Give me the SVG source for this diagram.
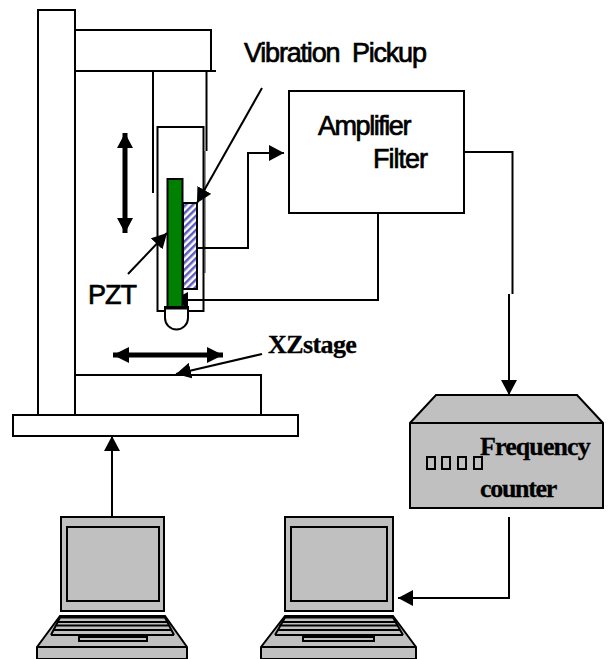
<svg xmlns="http://www.w3.org/2000/svg" width="610" height="659" viewBox="0 0 610 659">
<style>
.l{fill:none;stroke:#000;stroke-width:2}
.g{fill:#c0c0c0;stroke:#000;stroke-width:2}
.k{fill:none;stroke:#000;stroke-width:2}
.s{font-family:"Liberation Sans",Arial,sans-serif;font-size:27px;fill:#000;stroke:#000;stroke-width:.7;white-space:pre}
.b{font-family:"Liberation Serif","Times New Roman",serif;font-size:26px;font-weight:bold;fill:#000;stroke:#000;stroke-width:.3}
</style>
<defs>
<pattern id="h" width="5" height="5" patternUnits="userSpaceOnUse" patternTransform="rotate(45)">
<rect width="5" height="5" fill="#fff"/><rect width="2.500" height="5" fill="#5c5cc0"/>
</pattern>
<marker id="a" markerUnits="userSpaceOnUse" markerWidth="16" markerHeight="16" refX="15" refY="8" orient="auto"><path d="M0 0L15 8L0 16z" fill="#000"/></marker>
</defs>

<g id="stand">
<rect class="l" x="38" y="10" width="37" height="405"/>
<path class="l" d="M75 30H211V71"/>
<path class="l" d="M75 71H216"/>
<path class="l" d="M153 71V193M206.500 71V151"/>
<path d="M205 151V273" fill="none" stroke="#777" stroke-width="1.500"/>
<rect class="l" x="13" y="415" width="285" height="21"/>
</g>
<g id="xz-stage"><path class="l" d="M75 415V375H261V415"/></g>

<g id="holder">
<rect class="l" x="157.500" y="127" width="46" height="184"/>
<path d="M165 307V318A11.500 11.500 0 0 0 188 318V307z" fill="#fff" stroke="#000" stroke-width="2"/>
</g>

<g id="connectors">
<path class="l" marker-end="url(#a)" d="M197 248H248V153H284"/>
<path class="l" marker-end="url(#a)" d="M378 213V300H173"/>
<path class="l" d="M464 152H512.500V294"/>
<path class="l" marker-end="url(#a)" d="M509 294V395"/>
<path class="l" marker-end="url(#a)" d="M262 88L197 203"/>
<path class="l" marker-end="url(#a)" d="M128 274L167 233"/>
<path class="l" marker-end="url(#a)" d="M262 354L176 374"/>
<path class="l" marker-end="url(#a)" d="M112 517V436"/>
<path class="l" marker-end="url(#a)" d="M509 517V598H398"/>
<path d="M125 133V233" fill="none" stroke="#000" stroke-width="5"/>
<path d="M125 133L117 148H133zM125 233L117 218H133z" fill="#000"/>
<path d="M113 355H223" fill="none" stroke="#000" stroke-width="5"/>
<path d="M113 355L129 347V363zM223 355L207 347V363z" fill="#000"/>
</g>

<g id="pzt">
<rect x="167.500" y="179" width="15" height="128" fill="#008000" stroke="#000" stroke-width="2"/>
<path d="M165 308H188" stroke="#000" stroke-width="3" fill="none"/>
</g>
<g id="pickup"><rect x="183" y="203" width="14" height="86" fill="url(#h)" stroke="#000" stroke-width="2"/></g>

<g id="amplifier">
<rect class="l" x="289" y="91" width="175" height="122"/>
<text class="s" x="318" y="135" letter-spacing="-1.450">Amplifier</text>
<text class="s" x="373" y="168" letter-spacing="-1">Filter</text>
</g>

<g id="counter">
<path class="g" d="M436 395H577L603 423V508H410V423z"/>
<path class="l" d="M410 423H603"/>
<g fill="none" stroke="#000" stroke-width="2">
<rect x="427" y="457" width="8" height="12"/><rect x="442" y="457" width="8" height="12"/><rect x="458" y="457" width="8" height="12"/><rect x="474" y="457" width="8" height="12"/>
</g>
<text class="b" x="480" y="455" letter-spacing="-.9">Frequency</text>
<text class="b" x="480" y="497" letter-spacing="-1.300">counter</text>
</g>

<g id="laptop-1">
<rect class="g" x="61" y="517" width="103" height="94"/>
<rect class="g" x="67" y="527" width="92" height="74"/>
<path class="g" d="M60 616H165L187 647V659H37V647z"/>
<path class="l" d="M37 647H187"/>
<path class="k" d="M60 617.500H165M58 622H167M56 625.500H169M54 630H171M51 635H174M60 617.500L51 635M165 617.500L174 635"/>
<rect class="g" x="79" y="637" width="68" height="4"/>
</g>
<g id="laptop-2">
<rect class="g" x="285" y="517" width="108" height="94"/>
<rect class="g" x="291" y="527" width="96" height="74"/>
<path class="g" d="M285 616H393L416 647V659H261V647z"/>
<path class="l" d="M261 647H416"/>
<path class="k" d="M285 617.500H393M283 622H395M279 625.500H397M278 630H400M275 635H403M285 617.500L275 635M393 617.500L403 635"/>
<rect class="g" x="303" y="637" width="71" height="4"/>
</g>

<g id="labels">
<text class="s" x="244" y="62" letter-spacing="-1.200">Vibration  Pickup</text>
<text class="s" x="88" y="304" letter-spacing="-1">PZT</text>
<text class="b" x="268" y="353" letter-spacing="-.6">XZstage</text>
</g>
</svg>
